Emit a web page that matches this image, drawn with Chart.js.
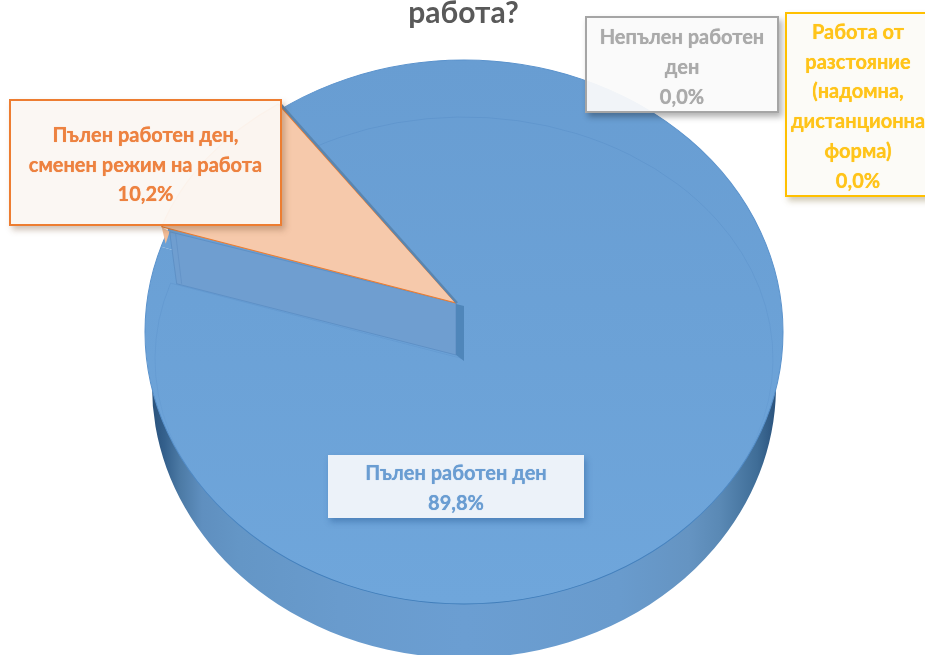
<!DOCTYPE html>
<html lang="bg">
<head>
<meta charset="utf-8">
<title>работа?</title>
<script src="https://cdn.jsdelivr.net/npm/chart.js@4"></script>
<style>
  html, body { margin: 0; padding: 0; background: #fff; overflow: hidden; }
  #wrap { position: relative; width: 925px; height: 655px; overflow: hidden; }
  canvas { position: absolute; left: 0; top: 0; }
  .lbl {
    position: absolute; box-sizing: border-box; text-align: center; white-space: nowrap;
    font-family: Lato, "Noto Sans", sans-serif; font-weight: 700; font-size: 20px;
    text-shadow: 0 0 0.7px currentColor;
  }
</style>
</head>
<body>
<div id="wrap">
  <canvas id="chart" width="925" height="655"></canvas>
</div>
<script>
const titleText = 'работа?';
const categories = ['Пълен работен ден', 'Пълен работен ден, сменен режим на работа', 'Непълен работен ден', 'Работа от разстояние (надомна, дистанционна форма)'];
const values = [89.8, 10.2, 0, 0];
const labelLines = [
    ['Пълен работен ден'],
    ['Пълен работен ден,', 'сменен режим на работа'],
    ['Непълен работен', 'ден'],
    ['Работа от', 'разстояние', '(надомна,', 'дистанционна', 'форма)']
];
const colors = ['#6ca2d8', '#f6c9ab', '#a5a5a5', '#ffc000'];
const textColors = ['#6a9dd2', '#ed8240', '#aaaaaa', '#ffc41a'];

// where each slice gets squashed to, the picture is a tilted 3D pie
const topFace = { cx: 464, cy: 332, rx: 319, ry: 272 };
const cutFace = { cx: 456, cy: 303, rx: 310, ry: 243 };
const sideFace = { cx: 464, cy: 386, rx: 312, ry: 272 };
const bevelFace = { cx: 464, cy: 359, rx: 309, ry: 242 };

function place(ctx, el, f) {
    ctx.translate(f.cx, f.cy);
    ctx.scale(f.rx / el.outerRadius, f.ry / el.outerRadius);
    ctx.translate(-el.x, -el.y);
}

function drawArc(ctx, el, f, over) {
    const saved = el.options;
    el.options = Object.assign({}, saved, over);
    ctx.save();
    place(ctx, el, f);
    el.draw(ctx);
    ctx.restore();
    el.options = saved;
}

const pie3d = {
    id: 'pie3d',
    beforeDatasetDraw(chart) {
        const ctx = chart.ctx;
        const arcs = chart.getDatasetMeta(0).data;
        const blue = arcs[0], cut = arcs[1];
        const R = blue.outerRadius;

        // side of the disc
        const grad = ctx.createLinearGradient(blue.x - R, 0, blue.x + R, 0);
        grad.addColorStop(0, '#2a527c');
        grad.addColorStop(0.02, '#34608c');
        grad.addColorStop(0.045, '#4c7aa5');
        grad.addColorStop(0.08, '#5f8fbf');
        grad.addColorStop(0.14, '#6496c6');
        grad.addColorStop(0.3, '#699bcd');
        grad.addColorStop(0.5, '#6b9ed2');
        grad.addColorStop(0.75, '#699bcd');
        grad.addColorStop(0.86, '#6594c2');
        grad.addColorStop(0.91, '#5a89b5');
        grad.addColorStop(0.97, '#3f6d97');
        grad.addColorStop(1, '#2a527c');
        [blue, cut].forEach(a => drawArc(ctx, a, sideFace, { backgroundColor: grad, borderWidth: 0 }));

        // top of the disc
        const faceGrad = ctx.createLinearGradient(0, blue.y - R, 0, blue.y + R);
        faceGrad.addColorStop(0, '#689dd2');
        faceGrad.addColorStop(1, '#6fa6db');
        drawArc(ctx, cut, topFace, { backgroundColor: faceGrad, borderWidth: 0 });
        drawArc(ctx, blue, topFace, { backgroundColor: faceGrad, borderWidth: 0 });
        const edgeGrad = ctx.createLinearGradient(0, blue.y - R, 0, blue.y + R);
        edgeGrad.addColorStop(0, '#5a92cc');
        edgeGrad.addColorStop(0.6, '#5a92cc');
        edgeGrad.addColorStop(1, '#3f7dba');
        ctx.save();
        place(ctx, blue, topFace);
        ctx.strokeStyle = edgeGrad;
        ctx.lineWidth = 1;
        ctx.beginPath();
        ctx.arc(blue.x, blue.y, R, 0, Math.PI * 2);
        ctx.stroke();
        ctx.restore();

        // faint bevel line, gone by the lower half
        const bevelGrad = ctx.createLinearGradient(0, blue.y - R, 0, blue.y + R);
        bevelGrad.addColorStop(0, 'rgba(80,135,195,0.4)');
        bevelGrad.addColorStop(0.55, 'rgba(80,135,195,0.25)');
        bevelGrad.addColorStop(0.8, 'rgba(80,135,195,0)');
        drawArc(ctx, blue, bevelFace, {
            backgroundColor: 'rgba(0,0,0,0)', borderColor: bevelGrad, borderWidth: 1
        });

        // edge points of the cut out slice, taken from its own angles
        const sx = cutFace.rx / R, sy = cutFace.ry / R;
        const edge = ang => ({
            x: cutFace.cx + Math.cos(ang) * R * sx,
            y: cutFace.cy + Math.sin(ang) * R * sy
        });
        const low = edge(cut.startAngle), up = edge(cut.endAngle);
        const tip = { x: cutFace.cx, y: cutFace.cy };

        // orange sliver at the outer end of the slice
        ctx.fillStyle = '#f3bd97';
        ctx.beginPath();
        ctx.moveTo(low.x, low.y);
        ctx.lineTo(low.x + 8, low.y + 5);
        ctx.lineTo(low.x + 4, low.y + 17);
        ctx.closePath();
        ctx.fill();

        // wall under the slice
        ctx.fillStyle = '#6f9ed0';
        ctx.strokeStyle = 'rgba(80,130,185,0.5)';
        ctx.beginPath();
        ctx.moveTo(tip.x, tip.y);
        ctx.lineTo(low.x + 8, low.y + 5);
        ctx.lineTo(low.x + 15, low.y + 57);
        ctx.lineTo(tip.x, tip.y + 52);
        ctx.closePath();
        ctx.fill();
        ctx.stroke();
        ctx.strokeStyle = 'rgba(80,130,185,0.35)';
        ctx.beginPath();
        ctx.moveTo(low.x + 14, low.y + 7);
        ctx.lineTo(low.x + 20, low.y + 57);
        ctx.stroke();
        ctx.fillStyle = '#4f86ba';
        ctx.beginPath();
        ctx.moveTo(tip.x, tip.y + 1);
        ctx.lineTo(tip.x + 8, tip.y + 3);
        ctx.lineTo(tip.x + 8, tip.y + 58);
        ctx.lineTo(tip.x, tip.y + 52);
        ctx.closePath();
        ctx.fill();

        // the slice itself
        drawArc(ctx, cut, cutFace, { backgroundColor: colors[1], borderColor: '#ed7d31', borderWidth: 1.5 });

        ctx.strokeStyle = '#5a86b0';
        ctx.lineWidth = 2.5;
        ctx.beginPath();
        ctx.moveTo(tip.x + 1, tip.y);
        ctx.lineTo(up.x + 2, up.y);
        ctx.stroke();

        return false;
    }
};

new Chart(document.getElementById('chart'), {
    type: 'pie',
    data: {
        labels: categories,
        datasets: [{
            data: values,
            backgroundColor: colors,
            borderWidth: 0
        }]
    },
    options: {
        responsive: false,
        animation: false,
        rotation: -35,
        layout: { padding: { left: 2 } },
        plugins: {
            legend: { display: false },
            tooltip: { enabled: false },
            title: {
                display: true,
                text: titleText,
                color: '#595959',
                font: { family: 'Lato, "Noto Sans", sans-serif', size: 30, weight: 'bold' },
                padding: { top: -5, bottom: 0 }
            }
        }
    },
    plugins: [pie3d]
});

// data labels, text comes from the arrays above
function pct(v) { return v.toFixed(1).replace('.', ',') + '%'; }

const boxes = [
    { left: 328, top: 455, width: 256, height: 63, lh: 29.5, pad: 3, bg: 'rgba(241,245,250,0.97)', border: 'none', shadow: '2px 4px 6px rgba(40,90,150,0.45)' },
    { left: 9, top: 99, width: 273, height: 127, lh: 29.5, pad: 19, bg: 'rgba(251,247,243,0.96)', border: '2.5px solid #ed7d31', shadow: '3px 4px 6px rgba(120,80,50,0.35)' },
    { left: 585, top: 16, width: 194, height: 97, lh: 30, pad: 3, bg: 'rgba(250,250,250,0.94)', border: '2.5px solid #a5a5a5', shadow: '3px 4px 6px rgba(0,0,0,0.3)' },
    { left: 785, top: 12, width: 146, height: 185, lh: 29.7, pad: 3, bg: 'rgba(252,251,247,0.96)', border: '2.5px solid #ffc000', shadow: '3px 4px 6px rgba(120,100,40,0.35)' }
];

boxes.forEach((b, i) => {
    const d = document.createElement('div');
    d.className = 'lbl';
    d.style.cssText = 'left:' + b.left + 'px;top:' + b.top + 'px;width:' + b.width + 'px;height:' + b.height + 'px;' +
        'line-height:' + b.lh + 'px;padding-top:' + b.pad + 'px;background:' + b.bg + ';border:' + b.border + ';' +
        'box-shadow:' + b.shadow + ';color:' + textColors[i] + ';';
    labelLines[i].concat(pct(values[i])).forEach(line => {
        const s = document.createElement('div');
        s.textContent = line;
        d.appendChild(s);
    });
    document.getElementById('wrap').appendChild(d);
});
</script>
</body>
</html>
